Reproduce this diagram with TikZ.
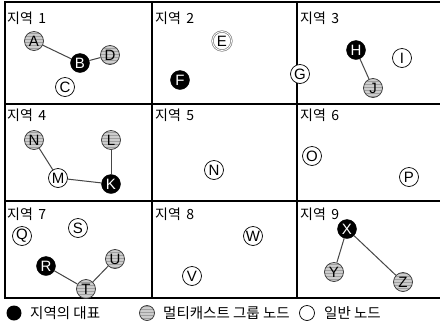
\documentclass[tikz,border=0pt]{standalone}
\usepackage{fontspec}
\setmainfont{Liberation Sans}
\newfontfamily\kr{Noto Sans CJK KR}
\usetikzlibrary{patterns}
\begin{document}
\begin{tikzpicture}[x=1pt,y=-1pt,
  nd/.style={circle,minimum size=19pt,inner sep=0pt,font=\fontsize{15}{15}\selectfont},
  rep/.style={nd,fill=black,draw=black,text=white},
  grp/.style={nd,draw=gray!40!black,line width=0.7pt,preaction={fill=gray!40},pattern=horizontal lines,pattern color=gray!75},
  plain/.style={nd,draw=black,fill=white,line width=0.7pt},
  link/.style={draw=gray!55!black,line width=1pt},
  grid/.style={draw=black,line width=1.1pt},
  reg/.style={anchor=west,font=\kr\fontsize{14}{14}\selectfont,inner sep=0pt},
  lgd/.style={anchor=west,font=\kr\fontsize{14.5}{14.5}\selectfont,inner sep=0pt}]
\useasboundingbox (0,0) rectangle (440,325);
\fill[white] (0,0) rectangle (440,325);
% grid
\draw[grid] (5,2) rectangle (442,298);
\draw[grid] (152,2) -- (152,298);
\draw[grid] (297,2) -- (297,298);
\draw[grid] (5,104) -- (442,104);
\draw[grid] (5,201) -- (442,201);
% region labels
\node[reg] (r1) at (7,18) {지역 \,1};
\node[reg] (r2) at (155,18) {지역 \,2};
\node[reg] (r3) at (300,18) {지역 \,3};
\node[reg] (r4) at (7,115) {지역 \,4};
\node[reg] (r5) at (155,115) {지역 \,5};
\node[reg] (r6) at (300,115) {지역 \,6};
\node[reg] (r7) at (7,214) {지역 \,7};
\node[reg] (r8) at (155,214) {지역 \,8};
\node[reg] (r9) at (300,214) {지역 \,9};
% region 1
\node[grp] (A) at (34,41) {A};
\node[rep] (B) at (80,63) {B};
\node[grp] (D) at (110,55) {D};
\node[plain] (C) at (65,87) {C};
\draw[link] (A) -- (B);
\draw[link] (B) -- (D);
% region 2
\node[plain,double=white,draw=gray,double distance=0.8pt] (E) at (222,41) {E};
\node[rep] (F) at (180,80) {F};
\node[plain] (G) at (300,74) {G};
% region 3
\node[rep] (H) at (356,50) {H};
\node[plain] (I) at (402,58) {I};
\node[grp] (J) at (373,88) {J};
\draw[link] (H) -- (J);
% region 4
\node[grp] (N) at (34,140) {N};
\node[grp] (L) at (111,140) {L};
\node[plain] (M) at (58,178) {M};
\node[rep] (K) at (111,184) {K};
\draw[link] (N) -- (M);
\draw[link] (M) -- (K);
\draw[link] (K) -- (L);
% region 5
\node[plain] (N5) at (214,170) {N};
% region 6
\node[plain] (O) at (312,156) {O};
\node[plain] (P) at (409,177) {P};
% region 7
\node[plain] (Q) at (22,236) {Q};
\node[plain] (S) at (78,228) {S};
\node[rep] (R) at (46,266) {R};
\node[grp] (T) at (86,289) {T};
\node[grp] (U) at (115,259) {U};
\draw[link] (R) -- (T);
\draw[link] (T) -- (U);
% region 8
\node[plain] (W) at (253,236) {W};
\node[plain] (V) at (192,276) {V};
% region 9
\node[rep] (X) at (347,229) {X};
\node[grp] (Y) at (334,272) {Y};
\node[grp] (Z) at (403,282) {Z};
\draw[link] (X) -- (Y);
\draw[link] (X) -- (Z);
% legend
\node[circle,fill=black,minimum size=15pt,inner sep=0pt] (l1) at (14,313) {};
\node[lgd] (t1) at (30,313) {지역의 대표};
\node[circle,minimum size=15pt,inner sep=0pt,draw=gray!40!black,line width=0.7pt,preaction={fill=gray!40},pattern=horizontal lines,pattern color=gray!75] (l2) at (147,313) {};
\node[lgd] (t2) at (163,313) {멀티캐스트 그룹 노드};
\node[circle,minimum size=15pt,inner sep=0pt,draw=black,line width=0.7pt] (l3) at (307,313) {};
\node[lgd] (t3) at (324,313) {일반 노드};
\end{tikzpicture}
\end{document}
